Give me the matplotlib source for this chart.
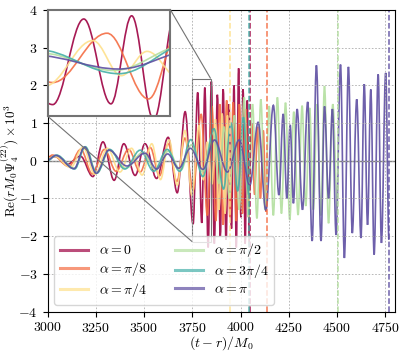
import matplotlib
matplotlib.use("Agg")
import matplotlib.pyplot as plt
from matplotlib.lines import Line2D
from matplotlib.patches import PathPatch
from matplotlib.path import Path
from mpl_toolkits.axes_grid1.inset_locator import mark_inset

plt.rcParams["font.family"] = "serif"
plt.rcParams["font.serif"] = ["cmr10"]
plt.rcParams["mathtext.fontset"] = "cm"
plt.rcParams["axes.formatter.use_mathtext"] = True
plt.rcParams["font.size"] = 10


# =====================================================================================================================
# successive extrema: (t - r)/M0 and Re(r M0 Psi4) x 1e3

t_a0 = [3000, 3040, 3100, 3170, 3235, 3287, 3345, 3395, 3454, 3505, 3565, 3625, 3672, 3713, 3754, 3778, 3799,
        3815, 3832, 3849, 3864, 3880, 3895, 3910, 3925, 3940, 3953, 3966, 3978, 3990, 4002, 4013, 4024, 4035, 4046]
y_a0 = [0.10, 0.11, -0.10, 0.12, -0.42, 0.50, -0.52, 0.45, -0.39, 0.45, -0.47, 0.62, -0.85, 1.30, -1.68, 1.81, -1.65,
        1.94, -2.30, 2.10, -2.20, 1.75, -2.00, 1.90, -2.10, 1.50, -1.80, 2.00, -2.30, 2.45, -1.50, 1.90, -2.20, 1.60, -2.30]

t_a1 = [3000, 3025, 3110, 3172, 3232, 3295, 3355, 3420, 3480, 3532, 3580, 3625, 3670, 3712, 3754, 3796, 3828, 3852,
        3872, 3892, 3910, 3928, 3945, 3962, 3978, 3994, 4010, 4026, 4042, 4058, 4073, 4088, 4103, 4118, 4132, 4138]
y_a1 = [0.08, 0.15, -0.15, 0.30, -0.35, 0.30, -0.28, 0.30, -0.30, 0.35, -0.40, 0.45, -0.55, 0.60, -0.78, 1.23, -1.45,
        1.45, -1.60, 1.50, -1.70, 1.60, -1.50, 1.55, -1.60, 1.50, -1.40, 1.37, -1.20, 1.00, -0.90, 0.90, -1.00, 0.80,
        -1.35, -0.80]

t_a2 = [3000, 3035, 3120, 3183, 3245, 3310, 3375, 3435, 3490, 3540, 3585, 3630, 3672, 3712, 3748, 3785, 3807, 3827,
        3852, 3870, 3888, 3905, 3920, 3932, 3943]
y_a2 = [0.05, 0.12, -0.18, 0.36, -0.36, 0.33, -0.30, 0.33, -0.38, 0.45, -0.50, 0.55, -0.65, 0.80, -0.92, 0.93, -0.50,
        0.49, -0.62, 1.10, -1.30, 1.25, -1.40, 1.20, -0.50]

t_a3 = [3000, 3048, 3140, 3195, 3255, 3320, 3405, 3495, 3560, 3625, 3690, 3745, 3801, 3858, 3888, 3915, 3942, 3968,
        3993, 4019, 4040, 4062, 4085, 4105, 4127, 4148, 4170, 4191, 4212, 4233, 4255, 4276, 4298, 4319, 4338, 4358,
        4377, 4397, 4416, 4435, 4456, 4478, 4503]
y_a3 = [0.05, 0.13, -0.20, 0.37, -0.33, 0.28, -0.20, 0.22, -0.25, 0.25, -0.25, 0.42, -0.29, 0.75, -0.60, 0.90, -1.00,
        1.20, -1.30, 1.68, -1.50, 1.50, -1.53, 1.63, -1.30, 1.45, -1.45, 1.68, -1.40, 1.54, -1.57, 1.30, -1.44, 1.46,
        -1.20, 1.40, -1.30, 1.50, -1.45, 1.98, -1.66, 1.50, -1.40]

t_a4 = [3000, 3046, 3140, 3195, 3255, 3322, 3400, 3480, 3550, 3620, 3685, 3742, 3805, 3862, 3912, 3950, 3985, 4015,
        4043]
y_a4 = [0.00, 0.15, -0.22, 0.37, -0.33, 0.30, -0.22, 0.28, -0.28, 0.30, -0.28, 0.56, -0.42, 0.85, -0.75, 1.00, -0.80,
        1.15, -0.90]

t_a5 = [3000, 3043, 3137, 3192, 3252, 3318, 3411, 3505, 3565, 3622, 3680, 3740, 3805, 3865, 3932, 3993, 4048, 4091,
        4131, 4170, 4199, 4221, 4240, 4257, 4274, 4293, 4321, 4348, 4371, 4393, 4417, 4435, 4456, 4476, 4495, 4518,
        4538, 4559, 4579, 4602, 4624, 4641, 4658, 4675, 4692, 4713, 4730, 4752, 4769]
y_a5 = [0.02, 0.14, -0.21, 0.36, -0.33, 0.28, -0.14, 0.20, -0.22, 0.18, -0.20, 0.33, -0.23, 0.55, -0.30, 0.55, -0.65,
        1.02, -1.31, 1.47, -0.91, 1.24, -1.00, 0.95, -1.13, 1.37, -1.30, 1.56, -2.13, 2.53, -2.13, 1.44, -1.00, 1.37,
        -1.97, 2.55, -2.58, 2.49, -1.92, 1.63, -2.05, 2.03, -1.70, 1.89, -2.49, 2.29, -2.18, 2.33, -2.10]

LABELS = [r"$\alpha=0$", r"$\alpha=\pi/8$", r"$\alpha=\pi/4$",
          r"$\alpha=\pi/2$", r"$\alpha=3\pi/4$", r"$\alpha=\pi$"]
COLORS = ["#9e0142", "#f46d43", "#fee08b", "#b3df9f", "#45b0a8", "#5e4fa2"]
T_MERGE = [4047, 4138, 3943, 4503, 4043, 4770]

SERIES = [(t_a0, y_a0), (t_a1, y_a1), (t_a2, y_a2), (t_a3, y_a3), (t_a4, y_a4), (t_a5, y_a5)]


# =====================================================================================================================


def wave_path(t, y, k=0.363):
    # smooth curve through successive extrema (flat tangent at each one)
    verts = [(t[0], y[0])]
    codes = [Path.MOVETO]
    for i in range(1, len(t)):
        h = t[i] - t[i - 1]
        verts += [(t[i - 1] + k * h, y[i - 1]), (t[i] - k * h, y[i]), (t[i], y[i])]
        codes += [Path.CURVE4] * 3
    return Path(verts, codes)


def draw_series(ax):
    for (t, y), c in zip(SERIES, COLORS):
        ax.add_patch(PathPatch(wave_path(t, y), fill=False, ec=c, lw=1.2, alpha=0.9))


fig = plt.figure(figsize=(4.03, 3.54), dpi=100)
ax = fig.add_axes([0.118, 0.12, 0.862, 0.852])

draw_series(ax)
for tm, c in zip(T_MERGE, COLORS):
    ax.axvline(tm, color=c, ls="--", lw=1.1, alpha=0.9)

ax.axhline(0, color="0.5", lw=1.0, zorder=0.5)
ax.grid(True, ls=(0, (2, 2)), lw=0.6, color="0.68")
ax.set_xlim(3000, 4800)
ax.set_ylim(-4, 4)
ax.set_xticks(range(3000, 4751, 250))
ax.set_yticks(range(-4, 5))
ax.set_xlabel(r"$(t-r)/M_0$", fontsize=10)
ax.set_ylabel(r"Re$(rM_0\Psi_4^{(22)})\times10^3$", fontsize=9.5)
ax.xaxis.set_label_coords(0.5, -0.075)
ax.yaxis.set_label_coords(-0.078, 0.5)

handles = [Line2D([], [], color=c, lw=2.2, alpha=0.7) for c in COLORS]
ax.legend(handles, LABELS, ncol=2, loc="lower left", fontsize=10, framealpha=0.8,
          borderaxespad=0.5, labelspacing=0.2)

# Zoomed inset
axins = fig.add_axes([0.118, 0.672, 0.305, 0.30])
draw_series(axins)
axins.set_xlim(3750, 3845)
axins.set_ylim(-2.15, 2.18)
axins.set_xticks([])
axins.set_yticks([])
for s in axins.spines.values():
    s.set_color("0.45")
    s.set_linewidth(1.5)
mark_inset(ax, axins, loc1=1, loc2=3, fc="none", ec="0.45", lw=0.8)

plt.savefig("out.png", dpi=100)
